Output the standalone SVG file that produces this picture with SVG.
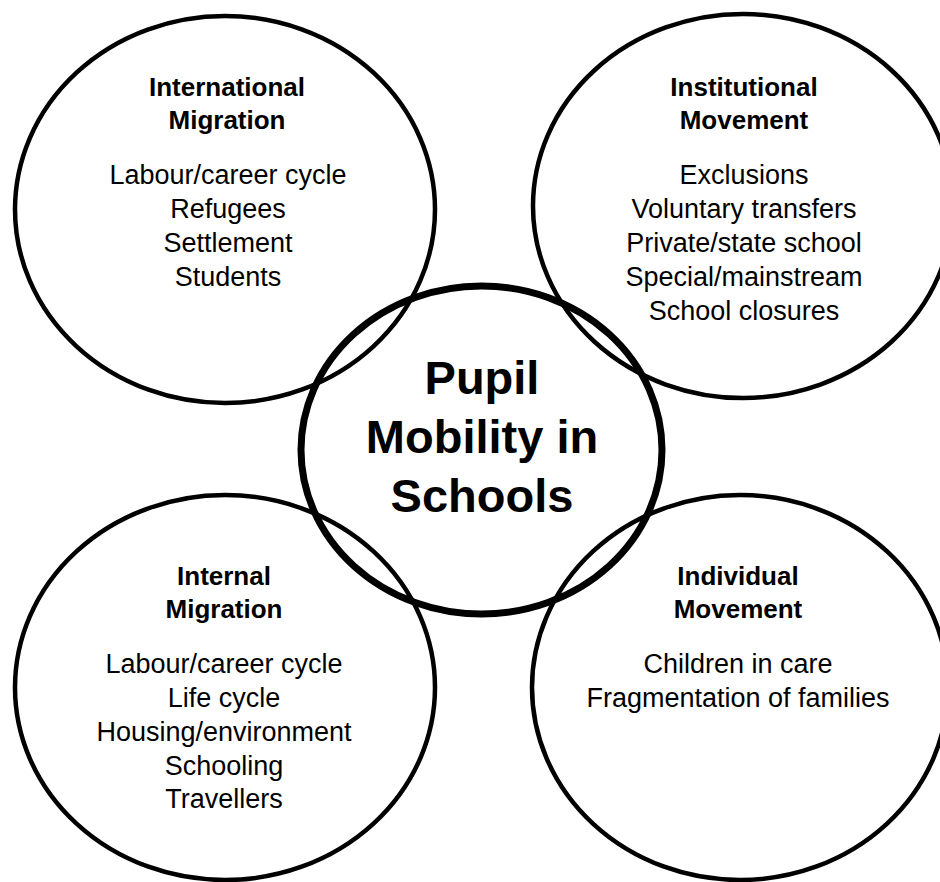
<svg xmlns="http://www.w3.org/2000/svg" width="940" height="882" viewBox="0 0 940 882">
  <style>
    .ring { fill: none; stroke: #000; stroke-width: 4.5; }
    .hub { fill: none; stroke: #000; stroke-width: 7; }
    text { font-family: "Liberation Sans", Arial, sans-serif; fill: #000; text-anchor: middle; }
    .head { font-size: 26px; font-weight: bold; }
    .item { font-size: 27px; }
    .title { font-size: 47px; font-weight: bold; }
  </style>
  <rect width="940" height="882" fill="#fff"/>

  <g id="international-migration">
    <ellipse class="ring" cx="225" cy="209.5" rx="210" ry="193.5"/>
    <text class="head" x="227" y="96">International</text>
    <text class="head" x="227" y="129">Migration</text>
    <text class="item" x="228" y="184">Labour/career cycle</text>
    <text class="item" x="228" y="218">Refugees</text>
    <text class="item" x="228" y="252">Settlement</text>
    <text class="item" x="228" y="286">Students</text>
  </g>

  <g id="institutional-movement">
    <ellipse class="ring" cx="743" cy="206" rx="210" ry="192"/>
    <text class="head" x="744" y="96">Institutional</text>
    <text class="head" x="744" y="129">Movement</text>
    <text class="item" x="744" y="184">Exclusions</text>
    <text class="item" x="744" y="218">Voluntary transfers</text>
    <text class="item" x="744" y="252">Private/state school</text>
    <text class="item" x="744" y="286">Special/mainstream</text>
    <text class="item" x="744" y="320">School closures</text>
  </g>

  <g id="internal-migration">
    <ellipse class="ring" cx="225" cy="687.5" rx="210" ry="192.5"/>
    <text class="head" x="224" y="585">Internal</text>
    <text class="head" x="224" y="618">Migration</text>
    <text class="item" x="224" y="673">Labour/career cycle</text>
    <text class="item" x="224" y="707">Life cycle</text>
    <text class="item" x="224" y="741">Housing/environment</text>
    <text class="item" x="224" y="775">Schooling</text>
    <text class="item" x="224" y="808">Travellers</text>
  </g>

  <g id="individual-movement">
    <ellipse class="ring" cx="740" cy="687.5" rx="208" ry="192.5"/>
    <text class="head" x="738" y="585">Individual</text>
    <text class="head" x="738" y="618">Movement</text>
    <text class="item" x="738" y="673">Children in care</text>
    <text class="item" x="738" y="707">Fragmentation of families</text>
  </g>

  <g id="pupil-mobility">
    <ellipse class="hub" cx="481.5" cy="450" rx="180.5" ry="164"/>
    <text class="title" x="482" y="394">Pupil</text>
    <text class="title" x="482" y="453">Mobility in</text>
    <text class="title" x="482" y="512">Schools</text>
  </g>

  <g id="connectors"/>
</svg>
